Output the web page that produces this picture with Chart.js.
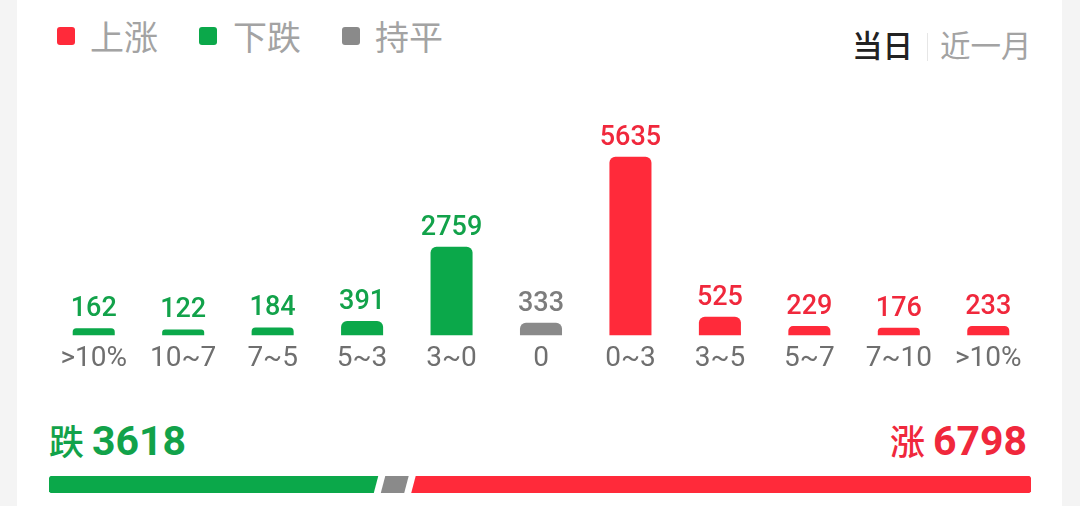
<!DOCTYPE html>
<html>
<head>
<meta charset="utf-8">
<script src="https://cdn.jsdelivr.net/npm/chart.js@4"></script>
<style>
  html, body { margin: 0; padding: 0; }
  body { width: 1080px; height: 506px; background: #f4f4f4; position: relative; overflow: hidden;
         font-family: Roboto, "Noto Sans CJK SC", sans-serif; }
  #card { position: absolute; left: 17px; top: 0; width: 1045px; height: 506px; background: #fff; }
  .leg { position: absolute; top: 14px; font: 34px "Noto Sans CJK SC"; color: #a3a3a3; line-height: 44px; }
  .sq { position: absolute; top: 27px; width: 18px; height: 18px; border-radius: 3px; }
  #tabs { position: absolute; top: 22px; left: 852px; font: 30.5px "Noto Sans CJK SC"; line-height: 44px; white-space: nowrap; }
  #tabs .on { color: #222; font-weight: 500; }
  #tabs .off { color: #a3a3a3; }
  #tabs .sep { display: inline-block; width: 1px; height: 28px; background: #e6e6e6; margin: 0 12px 0 14px; vertical-align: -4px; }
  .tot { position: absolute; top: 414px; font-weight: 700; line-height: 50px; white-space: nowrap; }
  .tot .zh { font: 500 35px "Noto Sans CJK SC"; }
  .tot .num { font: 700 41px Roboto; margin-left: 8px; }
  #main { position: absolute; left: 0; top: 0; }
  #ratio { position: absolute; left: 0; top: 470px; }
</style>
</head>
<body>
<div id="card"></div>

<div class="sq" style="left:57px;background:#ff2a3a"></div>
<div class="leg" style="left:90px">上涨</div>
<div class="sq" style="left:199px;background:#0ba84a"></div>
<div class="leg" style="left:233px">下跌</div>
<div class="sq" style="left:342px;background:#8a8a8a"></div>
<div class="leg" style="left:375px">持平</div>

<div id="tabs"><span class="on">当日</span><span class="sep"></span><span class="off">近一月</span></div>

<canvas id="main" width="1080" height="400"></canvas>

<div class="tot" style="left:49px;color:#12a24a"><span class="zh">跌</span><span class="num">3618</span></div>
<div class="tot" style="right:53px;color:#f0283c"><span class="zh">涨</span><span class="num">6798</span></div>

<canvas id="ratio" width="1080" height="30"></canvas>

<script>
// categorias del grafico
const categorias = [">10%", "10~7", "7~5", "5~3", "3~0", "0", "0~3", "3~5", "5~7", "7~10", ">10%"];
const valores = [162, 122, 184, 391, 2759, 333, 5635, 525, 229, 176, 233];
const tipos = ["down", "down", "down", "down", "down", "flat", "up", "up", "up", "up", "up"];

// totales de la barra de abajo
const totalBaja = 3618;
const totalPlano = 333;
const totalSube = 6798;

const colorBarra = { up: "#ff2a3a", down: "#0ba84a", flat: "#8a8a8a" };
const colorTexto = { up: "#f0283c", down: "#12a24a", flat: "#7d7d7d" };

// dibuja los numeros encima de cada barra
const etiquetas = {
  id: "etiquetas",
  afterDatasetsDraw(chart) {
    const ctx = chart.ctx;
    const meta = chart.getDatasetMeta(0);
    ctx.save();
    ctx.font = "500 27px Roboto";
    ctx.textAlign = "center";
    ctx.textBaseline = "alphabetic";
    meta.data.forEach((bar, i) => {
      ctx.fillStyle = colorTexto[tipos[i]];
      ctx.fillText(String(valores[i]), bar.x, bar.y - 12);
    });
    ctx.restore();
  }
};

new Chart(document.getElementById("main").getContext("2d"), {
  type: "bar",
  data: {
    labels: categorias,
    datasets: [{
      data: valores,
      base: -70,
      backgroundColor: tipos.map(t => colorBarra[t]),
      borderRadius: { topLeft: 6, topRight: 6 },
      borderSkipped: "bottom",
      barPercentage: 0.47,
      categoryPercentage: 1
    }]
  },
  options: {
    responsive: false,
    animation: false,
    layout: { padding: { left: 49, right: 47, top: 114, bottom: 17 } },
    plugins: { legend: { display: false }, tooltip: { enabled: false } },
    scales: {
      y: { display: false, min: -70, max: 7000 },
      x: {
        grid: { display: false, drawTicks: false },
        border: { display: false },
        ticks: { color: "#6f6f6f", font: { family: "Roboto", size: 28 }, padding: 7, maxRotation: 0, autoSkip: false }
      }
    }
  },
  plugins: [etiquetas]
});

// cortes inclinados entre los segmentos
const cortes = {
  id: "cortes",
  afterDatasetsDraw(chart) {
    const ctx = chart.ctx;
    ctx.save();
    ctx.fillStyle = "#fff";
    for (let d = 0; d < chart.data.datasets.length - 1; d++) {
      const el = chart.getDatasetMeta(d).data[0];
      const x = el.x, top = el.y - el.height / 2, bottom = el.y + el.height / 2;
      ctx.beginPath();
      ctx.moveTo(x - 6, bottom + 1);
      ctx.lineTo(x + 1, bottom + 1);
      ctx.lineTo(x + 6, top - 1);
      ctx.lineTo(x - 1, top - 1);
      ctx.closePath();
      ctx.fill();
    }
    ctx.restore();
  }
};

new Chart(document.getElementById("ratio").getContext("2d"), {
  type: "bar",
  data: {
    labels: [""],
    datasets: [
      { data: [totalBaja], backgroundColor: "#0ba84a", borderRadius: { topLeft: 4, bottomLeft: 4 }, borderSkipped: false },
      { data: [totalPlano], backgroundColor: "#8a8a8a", borderSkipped: false },
      { data: [totalSube], backgroundColor: "#ff2a3a", borderRadius: { topRight: 4, bottomRight: 4 }, borderSkipped: false }
    ]
  },
  options: {
    indexAxis: "y",
    responsive: false,
    animation: false,
    layout: { padding: { left: 49, right: 49, top: 6, bottom: 7 } },
    plugins: { legend: { display: false }, tooltip: { enabled: false } },
    scales: {
      x: { display: false, stacked: true, min: 0, max: totalBaja + totalPlano + totalSube },
      y: { display: false, stacked: true }
    },
    datasets: { bar: { barPercentage: 1, categoryPercentage: 1 } }
  },
  plugins: [cortes]
});
</script>
</body>
</html>
